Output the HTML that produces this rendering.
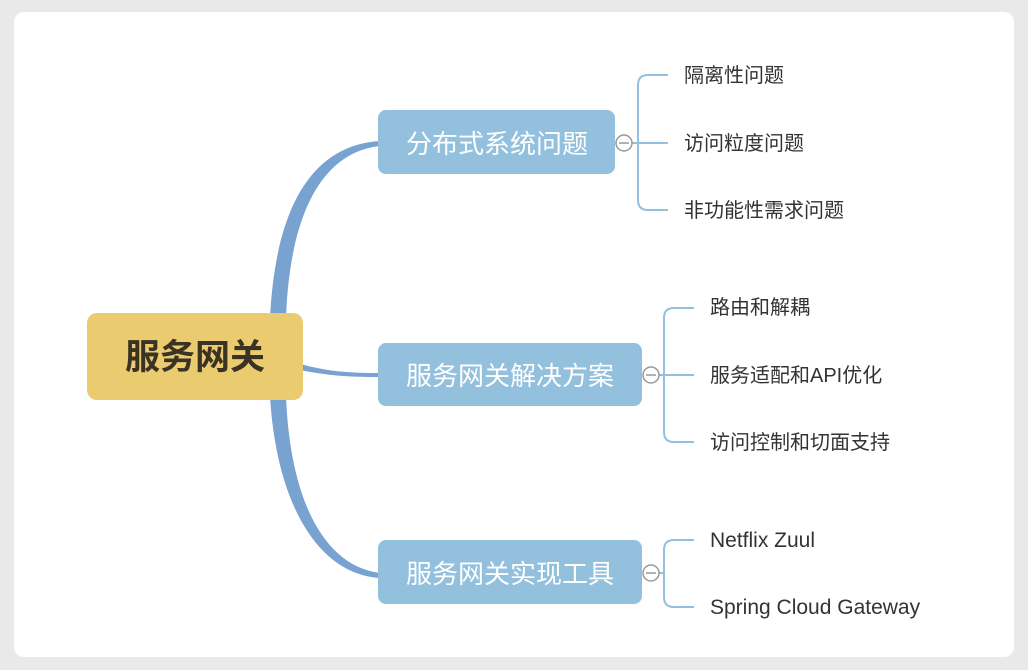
<!DOCTYPE html>
<html><head><meta charset="utf-8"><style>
html,body{margin:0;padding:0;background:#e9e9e9;width:1028px;height:670px;overflow:hidden}
svg{display:block}
text{font-family:"Liberation Sans","Noto Sans CJK SC",sans-serif}
</style></head><body>
<svg width="1028" height="670" viewBox="0 0 1028 670">
<rect x="14" y="12" width="1000" height="645" rx="10" fill="#fff"/>
<!-- main thick connectors -->
<path d="M270 318 C 276 200, 316 145, 380 141 L380 146 C 324 152, 290 210, 286 318 Z" fill="#78a2cf"/>
<path d="M270 396 C 276 500, 316 574, 380 578 L380 573 C 324 566, 290 500, 286 396 Z" fill="#78a2cf"/>
<path d="M300 370 C 330 376, 350 377, 380 377 L380 373 C 350 373, 330 372, 300 364 Z" fill="#78a2cf"/>
<!-- root -->
<rect x="87" y="313" width="216" height="87" rx="10" fill="#ebcb70"/>
<text x="195" y="369" font-size="35" font-weight="bold" fill="#3a3222" text-anchor="middle">服务网关</text>
<!-- branch boxes -->
<rect x="378" y="110" width="237" height="64" rx="8" fill="#93c0dc"/>
<text x="497" y="153" font-size="26" fill="#fff" text-anchor="middle">分布式系统问题</text>
<rect x="378" y="343" width="264" height="63" rx="8" fill="#93c0dc"/>
<text x="510" y="385" font-size="26" fill="#fff" text-anchor="middle">服务网关解决方案</text>
<rect x="378" y="540" width="264" height="64" rx="8" fill="#93c0dc"/>
<text x="510" y="583" font-size="26" fill="#fff" text-anchor="middle">服务网关实现工具</text>
<!-- brackets -->
<g fill="none" stroke="#93c0dc" stroke-width="2">
<path d="M668 75 H648 Q638 75 638 85 V200 Q638 210 648 210 H668 M632 143 H668"/>
<path d="M694 308 H674 Q664 308 664 318 V432 Q664 442 674 442 H694 M659 375 H694"/>
<path d="M694 540 H674 Q664 540 664 550 V597 Q664 607 674 607 H694 M659 573 H664"/>
</g>
<g fill="#fff" stroke="#999" stroke-width="1.5">
<circle cx="624" cy="143" r="8"/><circle cx="651" cy="375" r="8"/><circle cx="651" cy="573" r="8"/>
</g>
<g stroke="#999" stroke-width="1.5">
<path d="M619 143 H629 M646 375 H656 M646 573 H656"/>
</g>
<g font-size="20" fill="#333">
<text x="684" y="82">隔离性问题</text>
<text x="684" y="150">访问粒度问题</text>
<text x="684" y="217">非功能性需求问题</text>
<text x="710" y="314">路由和解耦</text>
<text x="710" y="382">服务适配和API优化</text>
<text x="710" y="449">访问控制和切面支持</text>
<text x="710" y="547" font-size="21">Netflix Zuul</text>
<text x="710" y="614" font-size="21">Spring Cloud Gateway</text>
</g>
</svg>
</body></html>
